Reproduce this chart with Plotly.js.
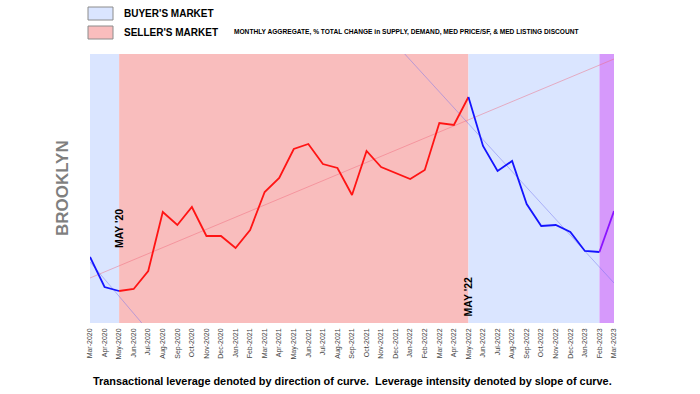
<!DOCTYPE html>
<html>
<head>
<meta charset="utf-8">
<script src="https://cdn.plot.ly/plotly-3.0.1.min.js"></script>
<style>html,body{margin:0;padding:0;background:#fff;}#chart{width:700px;height:394px;}</style>
</head>
<body>
<div id="chart"></div>
<script>
const months = ["Mar-2020","Apr-2020","May-2020","Jun-2020","Jul-2020","Aug-2020","Sep-2020","Oct-2020","Nov-2020","Dec-2020",
  "Jan-2021","Feb-2021","Mar-2021","Apr-2021","May-2021","Jun-2021","Jul-2021","Aug-2021","Sep-2021","Oct-2021","Nov-2021","Dec-2021",
  "Jan-2022","Feb-2022","Mar-2022","Apr-2022","May-2022","Jun-2022","Jul-2022","Aug-2022","Sep-2022","Oct-2022","Nov-2022","Dec-2022",
  "Jan-2023","Feb-2023","Mar-2023"];
const leverage = [73,43,39,41,59,118,105,123,94,94,82,100,138,152,181,186,166,162,135,179,163,157,151,160,207,205,233,
  184,159,169,126,104,105,98,79,78,119];
const sellerTrendX = [0,36];
const sellerTrendY = [52,271];
const buyerTrendX = [21.5,36];
const buyerTrendY = [278,47];
const earlyTrendX = [0,4.2];
const earlyTrendY = [68,-4];
const buyerStart = 0, sellerStart = 2, buyer2Start = 26, mixedStart = 35, endIdx = 36;

const idx = months.map((m,i)=>i);
function seg(a,b){return {x: idx.slice(a,b+1), y: leverage.slice(a,b+1)};}

const traces = [
  {x: earlyTrendX, y: earlyTrendY, mode:'lines', line:{color:'rgba(110,110,240,0.45)', width:1}, hoverinfo:'skip'},
  {x: sellerTrendX, y: sellerTrendY, mode:'lines', line:{color:'rgba(240,100,120,0.45)', width:1}, hoverinfo:'skip'},
  {x: buyerTrendX, y: buyerTrendY, mode:'lines', line:{color:'rgba(110,110,240,0.45)', width:1}, hoverinfo:'skip'},
  Object.assign(seg(buyerStart,sellerStart), {mode:'lines', line:{color:'#1414ff', width:1.8}}),
  Object.assign(seg(sellerStart,buyer2Start), {mode:'lines', line:{color:'#ff1414', width:1.8}}),
  Object.assign(seg(buyer2Start,mixedStart), {mode:'lines', line:{color:'#1414ff', width:1.8}}),
  Object.assign(seg(mixedStart,endIdx), {mode:'lines', line:{color:'#8a14ff', width:1.8}})
];

const W = 524, H = 269;
function px(x){return (x-90)/W;}
function py(y){return (323-y)/H;}

const shapes = [
  {type:'rect', xref:'x', yref:'paper', x0:buyerStart, x1:sellerStart, y0:0, y1:1, fillcolor:'#dae5ff', line:{width:0}, layer:'below'},
  {type:'rect', xref:'x', yref:'paper', x0:sellerStart, x1:buyer2Start, y0:0, y1:1, fillcolor:'#f9bdbd', line:{width:0}, layer:'below'},
  {type:'rect', xref:'x', yref:'paper', x0:buyer2Start, x1:mixedStart, y0:0, y1:1, fillcolor:'#dae5ff', line:{width:0}, layer:'below'},
  {type:'rect', xref:'x', yref:'paper', x0:mixedStart, x1:endIdx, y0:0, y1:1, fillcolor:'#d699fb', line:{width:0}, layer:'below'},
  {type:'rect', xref:'paper', yref:'paper', x0:px(88), x1:px(113), y0:py(20), y1:py(7), fillcolor:'#dae5ff', line:{color:'#8c8c8c', width:1}},
  {type:'rect', xref:'paper', yref:'paper', x0:px(88), x1:px(113), y0:py(39), y1:py(26), fillcolor:'#f9bdbd', line:{color:'#8c8c8c', width:1}}
];

const F = 'Arial, "Liberation Sans", sans-serif';
const annotations = [
  {xref:'paper', yref:'paper', x:px(122), y:py(13), xanchor:'left', yanchor:'middle', showarrow:false, text:"<b>BUYER'S MARKET</b>", font:{family:F, size:10, color:'#000'}},
  {xref:'paper', yref:'paper', x:px(122), y:py(32.5), xanchor:'left', yanchor:'middle', showarrow:false, text:"<b>SELLER'S MARKET</b>", font:{family:F, size:10, color:'#000'}},
  {xref:'paper', yref:'paper', x:px(232), y:py(32), xanchor:'left', yanchor:'middle', showarrow:false, text:"<b>MONTHLY AGGREGATE, % TOTAL CHANGE in SUPPLY, DEMAND, MED PRICE/SF, & MED LISTING DISCOUNT</b>", font:{family:F, size:6.6, color:'#000'}},
  {xref:'paper', yref:'paper', x:px(62), y:py(188), xanchor:'center', yanchor:'middle', showarrow:false, textangle:-90, text:"<b>BROOKLYN</b>", font:{family:F, size:17, color:'#7f7f7f'}},
  {xref:'x', yref:'paper', x:sellerStart, y:py(229), xanchor:'center', yanchor:'middle', showarrow:false, textangle:-90, text:"<b>MAY '20</b>", font:{family:F, size:10.5, color:'#000'}},
  {xref:'x', yref:'paper', x:buyer2Start, y:py(297), xanchor:'center', yanchor:'middle', showarrow:false, textangle:-90, text:"<b>MAY '22</b>", font:{family:F, size:10.5, color:'#000'}},
  {xref:'paper', yref:'paper', x:px(352), y:py(381), xanchor:'center', yanchor:'middle', showarrow:false, text:"<b>Transactional leverage denoted by direction of curve.  Leverage intensity denoted by slope of curve.</b>", font:{family:F, size:10.9, color:'#000'}}
];

const layout = {
  width:700, height:394,
  margin:{l:90, r:86, t:54, b:71},
  paper_bgcolor:'#fff', plot_bgcolor:'#fff',
  showlegend:false,
  xaxis:{range:[0,36], tickvals:idx, ticktext:months, tickangle:-90, tickfont:{family:F, size:7, color:'#444'}, ticklabelstandoff:3, showgrid:false, zeroline:false, showline:false, ticks:'', fixedrange:true},
  yaxis:{range:[7,276], showticklabels:false, showgrid:false, zeroline:false, showline:false, ticks:'', fixedrange:true},
  shapes: shapes,
  annotations: annotations
};

Plotly.newPlot('chart', traces, layout, {staticPlot:true, displayModeBar:false});
</script>
</body>
</html>
